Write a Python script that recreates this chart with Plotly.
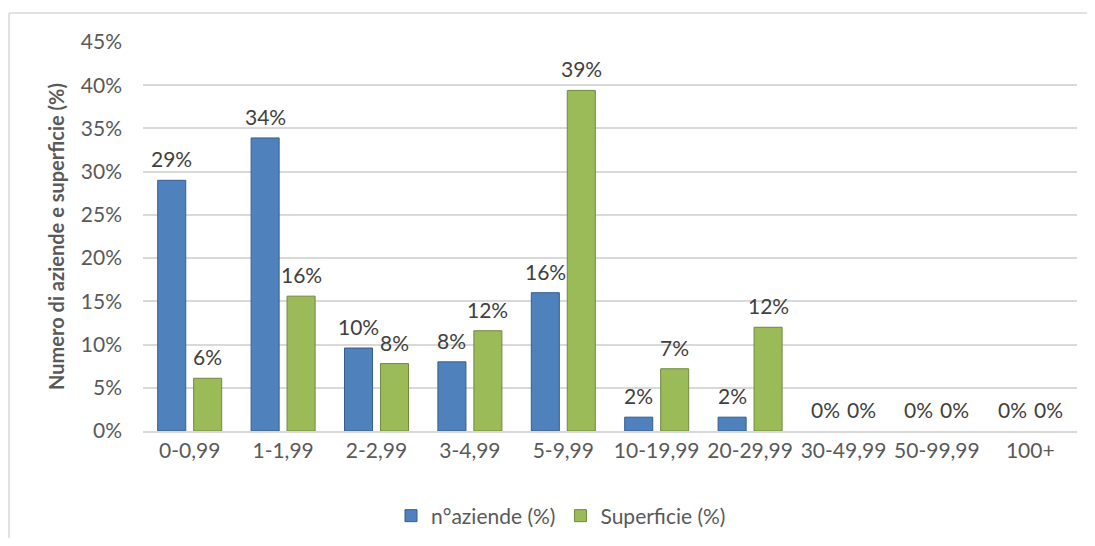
import plotly.graph_objects as go

# data
CATEGORIES = ['0-0,99', '1-1,99', '2-2,99', '3-4,99', '5-9,99',
              '10-19,99', '20-29,99', '30-49,99', '50-99,99', '100+']
AZIENDE = [29.0, 33.9, 9.6, 8.0, 16.0, 1.6, 1.6, 0, 0, 0]
SUPERFICIE = [6.1, 15.6, 7.8, 11.6, 39.4, 7.2, 12.0, 0, 0, 0]
YTICKS = [0, 5, 10, 15, 20, 25, 30, 35, 40, 45]

FONT = 'Lato, "Open Sans", sans-serif'
GREY = '#595959'

# page body has an 8px margin all round, so the figure is drawn smaller
OFF = 8
W, H = 1095 - 2 * OFF, 546 - 2 * OFF
# plot area in pixels (reference coords minus the offset)
L, R, T, B = 143 - OFF, 1077 - OFF, 42 - OFF, 431 - OFF
BARGAP, GROUPGAP = 0.23, 0.22


def label(v):
    return f'{round(v):.0f}%'


def edge(vals):
    return [1 if v > 0 else 0 for v in vals]


fig = go.Figure()
fig.add_bar(x=CATEGORIES, y=AZIENDE, name='n°aziende (%)',
            marker=dict(color='#4F81BD',
                        line=dict(color='#385D8A', width=edge(AZIENDE))))
fig.add_bar(x=CATEGORIES, y=SUPERFICIE, name='Superficie (%)',
            marker=dict(color='#9BBB59',
                        line=dict(color='#71893F', width=edge(SUPERFICIE))))

# data labels, a little above each bar
slot = (1 - BARGAP) * (R - L) / len(CATEGORIES) / 2
for vals, dx in ((AZIENDE, -slot / 2), (SUPERFICIE, slot / 2)):
    for cat, v in zip(CATEGORIES, vals):
        fig.add_annotation(x=cat, y=v, text=label(v), showarrow=False,
                           xanchor='center', yanchor='bottom',
                           xshift=dx, yshift=7,
                           font=dict(size=21, color='#404040', family=FONT))

#x-axis
fig.update_xaxes(tickfont=dict(size=21, color=GREY, family=FONT),
                 showline=True, linecolor='#D9D9D9', linewidth=2,
                 ticks='', showgrid=False, automargin=False)

#y-axis
fig.update_yaxes(range=[0, 45], tickvals=YTICKS,
                 ticktext=[f'{t}%' for t in YTICKS],
                 tickfont=dict(size=21, color=GREY, family=FONT),
                 gridcolor='#D9D9D9', gridwidth=2, zeroline=False,
                 ticklabelstandoff=20, automargin=False,
                 title=dict(text='<b>Numero di aziende e superficie (%)</b>',
                            font=dict(size=20, color=GREY, family=FONT),
                            standoff=10))

# outer chart border: only the left and top edges show in the picture
pw, ph = R - L, B - T
bx0 = (9 - OFF - L) / pw
by1 = 1 + (T - (13 - OFF)) / ph
border = dict(type='line', xref='paper', yref='paper', layer='below',
              line=dict(color='#D9D9D9', width=1.5))
fig.add_shape(**border, x0=bx0, x1=bx0, y0=(B - 600) / ph, y1=by1)
fig.add_shape(**border, x0=bx0, x1=(W + 60 - L) / pw, y0=by1, y1=by1)

fig.update_layout(width=W, height=H,
                  margin=dict(l=L, r=W - R, t=T, b=H - B),
                  plot_bgcolor='white', paper_bgcolor='white',
                  barmode='group', bargap=BARGAP, bargroupgap=GROUPGAP,
                  font=dict(family=FONT, color=GREY),
                  legend=dict(orientation='h', xref='paper', yref='container',
                              x=(561 - 143) / (R - L), xanchor='center',
                              y=1 - (516 - OFF) / H, yanchor='middle', itemwidth=30,
                              font=dict(size=21, color=GREY, family=FONT)),
                  showlegend=True)

fig.write_html('out.html')
